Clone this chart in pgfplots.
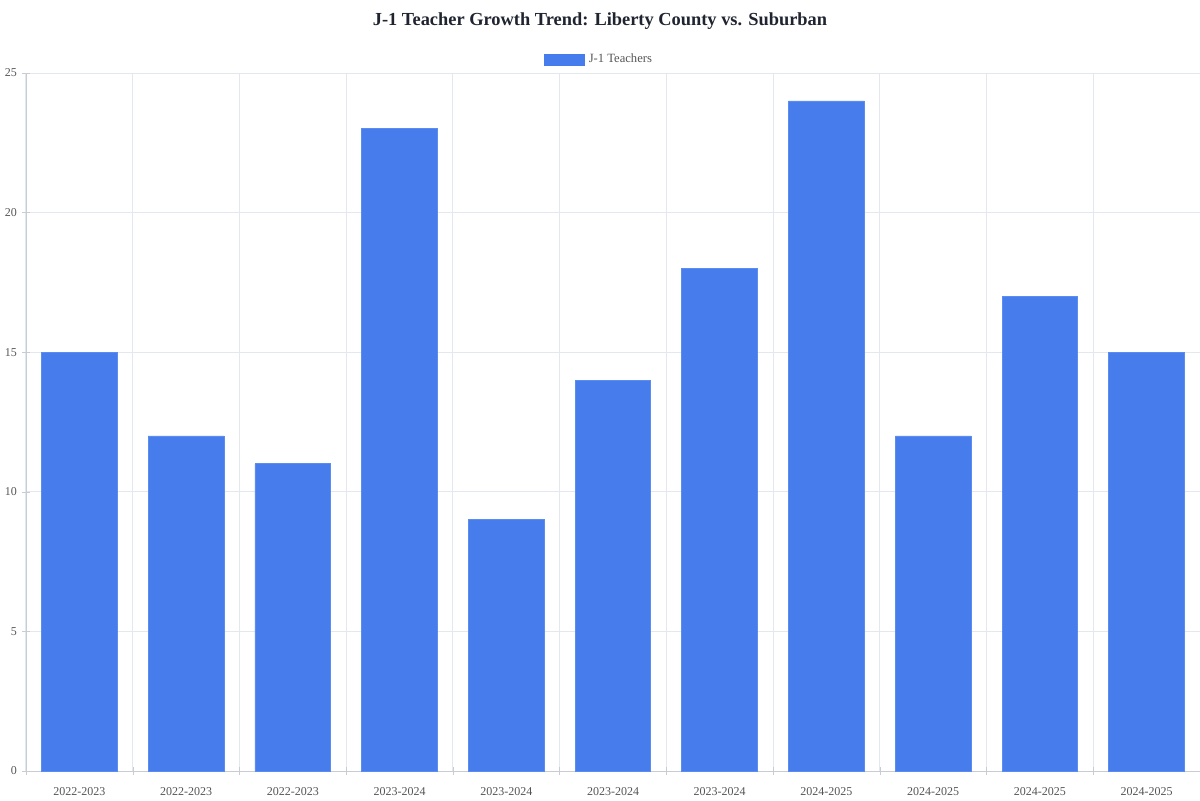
\documentclass[border=0pt]{standalone}
\usepackage{pgfplots}
\pgfplotsset{compat=1.18}
\usepackage{fontspec}
\setmainfont{Liberation Serif}
\definecolor{barblue}{HTML}{477CEC}
\definecolor{baredge}{HTML}{5C8CF0}
\definecolor{gridc}{HTML}{E3E7EE}
\definecolor{axisc}{HTML}{C9CCD2}
\definecolor{labc}{HTML}{555555}
\definecolor{titlec}{HTML}{1F2430}
\begin{document}
\begin{tikzpicture}
  % page is 600pt x 400pt (1px = 0.5pt)
  \useasboundingbox (-13pt,-14.5pt) rectangle (587pt,385.5pt);
  \begin{axis}[
      at={(0,0)}, anchor=south west,
      scale only axis,
      width=587pt, height=349pt,
      ybar, bar width=0.71,
      xmin=-0.5, xmax=10.5,
      ymin=0, ymax=25,
      xtick={0,...,10},
      xticklabels={2022-2023,2022-2023,2022-2023,2023-2024,2023-2024,2023-2024,2023-2024,2024-2025,2024-2025,2024-2025,2024-2025},
      minor xtick={-0.5,0.5,...,10.5},
      ytick={0,5,...,25},
      major x tick style={draw=none},
      minor x tick style={axisc},
      y tick style={axisc},
      tick align=outside,
      major tick length=4pt, minor tick length=4pt,
      axis lines=left,
      axis line style={axisc, -},
      ymajorgrids, xminorgrids,
      grid style={gridc, line width=0.5pt},
      ticklabel style={font=\fontsize{6}{7}\selectfont, text=labc},
      xticklabel style={yshift=-2.5pt},
      yticklabel style={xshift=1pt},
      /pgf/number format/assume math mode=true,
      legend style={at={(0.4889,1.019)}, anchor=center, draw=none,
        font=\fontsize{6.3}{7}\selectfont, text=labc, fill=none,
        /tikz/every even column/.append style={column sep=2pt}},
      legend image code/.code={\fill[barblue] (0pt,-2.75pt) rectangle (20pt,2.75pt);},
    ]
    \addplot[fill=barblue, draw=baredge, line width=0.4pt] coordinates {
      (0,15) (1,12) (2,11) (3,23) (4,9) (5,14) (6,18) (7,24) (8,12) (9,17) (10,15)
    };
    \addlegendentry{J-1 Teachers}
  \end{axis}
  \node[font=\bfseries\fontsize{9.2}{11}\selectfont, text=titlec] at (287pt,375pt) {J-1 Teacher Growth Trend: Liberty County vs. Suburban};
\end{tikzpicture}
\end{document}
